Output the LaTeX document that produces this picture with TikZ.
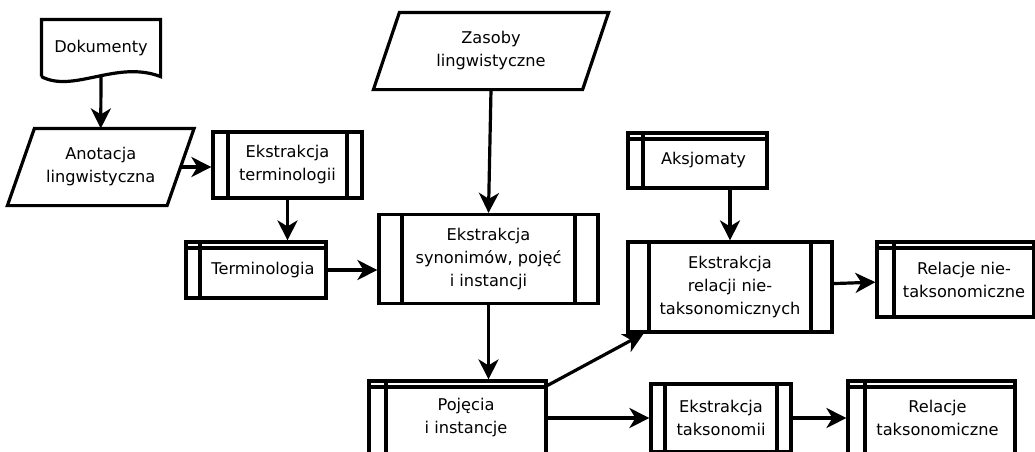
\documentclass[tikz,border=0pt]{standalone}
\usepackage{fontspec}
\setmainfont{DejaVu Sans}
\usetikzlibrary{arrows.meta,calc}

\tikzset{
  base/.style={rectangle, minimum width=#1, inner sep=0pt, align=center,
    font=\fontsize{16.2}{23}\selectfont, line width=3.2pt},
  % predefined process: box with a vertical bar near each side
  process/.style n args={3}{base=#1, minimum height=#2, draw,
    path picture={
      \draw[line width=3.2pt]
        ([xshift=#3]path picture bounding box.north west) -- ([xshift=#3]path picture bounding box.south west)
        ([xshift=-#3]path picture bounding box.north east) -- ([xshift=-#3]path picture bounding box.south east);
    }},
  % stored data: box with a double top edge and a bar on the left
  store/.style n args={3}{base=#1, minimum height=#2, draw,
    path picture={
      \draw[line width=3.2pt]
        ([yshift=-6pt]path picture bounding box.north west) -- ([yshift=-6pt]path picture bounding box.north east)
        ([xshift=#3]path picture bounding box.north west) -- ([xshift=#3]path picture bounding box.south west);
    }},
  shapeline/.style={line width=3.2pt, line join=miter},
  conn/.style={line width=3.2pt, -{Stealth[length=20pt,width=20pt,inset=6pt]}},
}

\begin{document}
\begin{tikzpicture}[x=1pt,y=-1pt]
\useasboundingbox (0,0) rectangle (1035,451);
\fill[white] (0,0) rectangle (1035,451);
\clip (0,0) rectangle (1035,451);

% document
\node[base=116pt, minimum height=54pt] (dok) at (101,48) {Dokumenty};
\draw[shapeline] (dok.south west) -- (dok.north west) -- (dok.north east) -- (dok.south east)
  .. controls ($(dok.south east)+(-44,-17)$) and ($(dok.south west)+(32,17)$) .. (dok.south west);

% input / output parallelograms
\node[base=156.5pt, minimum height=74pt] (anot) at (100.75,167) {Anotacja\\lingwistyczna};
\draw[shapeline] ([xshift=13.5pt]anot.north west) -- ([xshift=13.5pt]anot.north east)
  -- ([xshift=-13.5pt]anot.south east) -- ([xshift=-13.5pt]anot.south west) -- cycle;

\node[base=206pt, minimum height=74pt] (zas) at (491,51) {Zasoby\\lingwistyczne};
\draw[shapeline] ([xshift=13pt]zas.north west) -- ([xshift=13pt]zas.north east)
  -- ([xshift=-13pt]zas.south east) -- ([xshift=-13pt]zas.south west) -- cycle;

% processes
\node[process={149pt}{66pt}{15pt}] (eterm) at (287.5,165) {Ekstrakcja\\terminologii};
\node[process={219pt}{89pt}{23pt}] (esyn) at (488.5,259) {Ekstrakcja\\synonimów, pojęć\\i instancji};
\node[process={204pt}{90pt}{21pt}] (erel) at (730,287) {Ekstrakcja\\relacji nie-\\taksonomicznych};
\node[process={140pt}{68pt}{14pt}] (etax) at (721,418) {Ekstrakcja\\taksonomii};

% stored data
\node[store={140pt}{56pt}{14pt}] (term) at (256,270) {\hspace*{14pt}Terminologia};
\node[store={177pt}{74pt}{17pt}] (poj) at (457.5,418) {\hspace*{17pt}Pojęcia\\\hspace*{17pt}i instancje};
\node[store={139pt}{55pt}{15pt}] (aks) at (697.5,160.5) {\hspace*{12pt}Aksjomaty};
\node[store={157pt}{75pt}{17pt}] (reln) at (955.5,279.5) {\hspace*{17pt}Relacje nie-\\\hspace*{17pt}taksonomiczne};
\node[store={167pt}{74pt}{17pt}] (relt) at (931.5,418) {\hspace*{12pt}Relacje\\\hspace*{12pt}taksonomiczne};

% flow
\draw[conn] (dok.south) -- (anot.north);
\draw[conn] (anot.east) -- (anot.east -| eterm.west);
\draw[conn] (eterm.south) -- (eterm.south |- term.north);
\draw[conn] (term.east) -- (term.east -| esyn.west);
\draw[conn] (zas.south) -- (esyn.north);
\draw[conn] (esyn.south) -- (esyn.south |- poj.north);
\draw[conn] ([yshift=-6pt]poj.north east) -- (erel);
\draw[conn] (aks.south -| erel.north) -- (erel.north);
\draw[conn] (erel) -- (reln);
\draw[conn] (poj.east) -- (poj.east -| etax.west);
\draw[conn] (etax.east) -- (etax.east -| relt.west);
\end{tikzpicture}
\end{document}
